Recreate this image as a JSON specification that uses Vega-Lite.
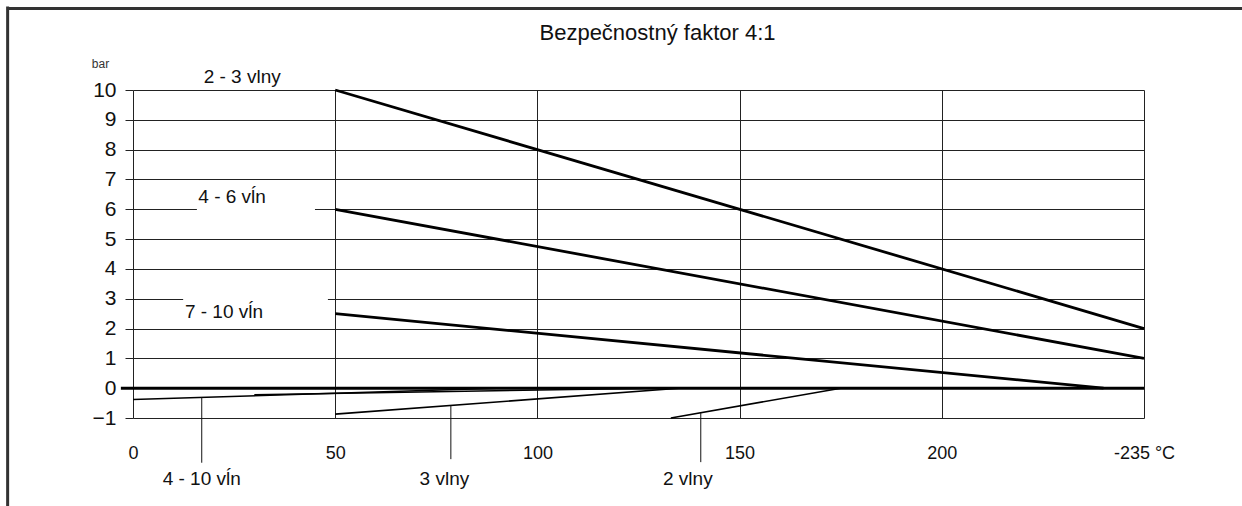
{
  "$schema": "https://vega.github.io/schema/vega-lite/v6.json",
  "autosize": "none",
  "width": 1011,
  "height": 328,
  "padding": {"left": 133, "top": 90, "right": 98, "bottom": 88},
  "background": "white",
  "config": {
    "view": {"stroke": null},
    "font": "Liberation Sans",
    "axis": {"gridColor": "#222", "gridOpacity": 1, "gridWidth": 1, "tickColor": "#222", "labelColor": "#111", "labelFont": "Liberation Sans", "domain": false}
  },
  "title": {
    "text": "Bezpečnostný faktor 4:1",
    "font": "Liberation Sans",
    "fontSize": 22,
    "fontWeight": "normal",
    "color": "#111",
    "anchor": "middle",
    "frame": "group",
    "dx": 19,
    "offset": 0,
    "dy": 40
  },
  "datasets": {
    "mainLines": [
      {"s": "2 - 3 vlny", "x": 50, "y": 10},
      {"s": "2 - 3 vlny", "x": 250, "y": 2},
      {"s": "4 - 6 vĺn", "x": 50, "y": 6},
      {"s": "4 - 6 vĺn", "x": 250, "y": 1},
      {"s": "7 - 10 vĺn", "x": 50, "y": 2.5},
      {"s": "7 - 10 vĺn", "x": 240, "y": 0}
    ],
    "negLines": [
      {"s": "4 - 10 vĺn a", "x": 0, "y": -0.38},
      {"s": "4 - 10 vĺn a", "x": 90, "y": 0},
      {"s": "4 - 10 vĺn b", "x": 30, "y": -0.22},
      {"s": "4 - 10 vĺn b", "x": 128, "y": 0},
      {"s": "3 vlny", "x": 50, "y": -0.87},
      {"s": "3 vlny", "x": 135, "y": 0},
      {"s": "2 vlny", "x": 133, "y": -1},
      {"s": "2 vlny", "x": 175, "y": 0}
    ],
    "zero": [{"x": -3, "x2": 250, "y": 0}],
    "leaders": [
      {"x": 17, "y": -0.31, "y2": -2.5},
      {"x": 78.6, "y": -0.58, "y2": -2.38},
      {"x": 140.4, "y": -0.83, "y2": -2.48}
    ],
    "boxes": [
      {"x": 15.8, "x2": 45, "y": 6.78, "y2": 5.84},
      {"x": 12.4, "x2": 48.2, "y": 3.29, "y2": 2.11}
    ],
    "labels": [
      {"t": "2 - 3 vlny", "x": 27, "y": 10.44},
      {"t": "4 - 6 vĺn", "x": 24.5, "y": 6.4},
      {"t": "7 - 10 vĺn", "x": 22.5, "y": 2.55},
      {"t": "4 - 10 vĺn", "x": 17, "y": -3.05},
      {"t": "3 vlny", "x": 77, "y": -3.05},
      {"t": "2 vlny", "x": 137.2, "y": -3.05}
    ],
    "frameTop": [{"x": -31.2, "x2": 280, "y": 12.73}],
    "frameLeft": [{"x": -31.0, "y": 12.8, "y2": -4.5}]
  },
  "encoding": {
    "x": {
      "field": "x",
      "type": "quantitative",
      "scale": {"domain": [0, 250], "nice": false, "zero": false},
      "axis": {
        "values": [0, 50, 100, 150, 200, 250],
        "labelExpr": "datum.value == 250 ? '-235 °C' : datum.label",
        "title": null,
        "grid": true,
        "ticks": false,
        "labelFontSize": 18,
        "labelPadding": 26,
        "labelFlush": false
      }
    },
    "y": {
      "field": "y",
      "type": "quantitative",
      "scale": {"domain": [-1, 10], "nice": false, "zero": false},
      "axis": {
        "values": [-1, 0, 1, 2, 3, 4, 5, 6, 7, 8, 9, 10],
        "title": "bar",
        "titleAngle": 0,
        "titleX": -33,
        "titleY": -27,
        "titleAlign": "center",
        "titleBaseline": "middle",
        "titleFontSize": 12,
        "titleFontWeight": "normal",
        "titleColor": "#333",
        "grid": true,
        "ticks": true,
        "tickSize": 8,
        "labelFontSize": 21,
        "labelPadding": 9
      }
    }
  },
  "layer": [
    {
      "data": {"name": "frameTop"},
      "mark": {"type": "rule", "color": "#333", "strokeWidth": 3, "clip": false},
      "encoding": {"x2": {"field": "x2"}}
    },
    {
      "data": {"name": "frameLeft"},
      "mark": {"type": "rule", "color": "#333", "strokeWidth": 3, "clip": false},
      "encoding": {"y2": {"field": "y2"}}
    },
    {
      "data": {"name": "boxes"},
      "mark": {"type": "rect", "fill": "white", "stroke": null},
      "encoding": {"x2": {"field": "x2"}, "y2": {"field": "y2"}}
    },
    {
      "data": {"name": "negLines"},
      "mark": {"type": "line", "color": "black", "strokeWidth": 1.6},
      "encoding": {"detail": {"field": "s"}}
    },
    {
      "data": {"name": "mainLines"},
      "mark": {"type": "line", "color": "black", "strokeWidth": 2.8},
      "encoding": {"detail": {"field": "s"}}
    },
    {
      "data": {"name": "zero"},
      "mark": {"type": "rule", "color": "black", "strokeWidth": 3, "clip": false},
      "encoding": {"x2": {"field": "x2"}}
    },
    {
      "data": {"name": "leaders"},
      "mark": {"type": "rule", "color": "#111", "strokeWidth": 1, "clip": false},
      "encoding": {"y2": {"field": "y2"}}
    },
    {
      "data": {"name": "labels"},
      "mark": {"type": "text", "font": "Liberation Sans", "fontSize": 19, "color": "#111", "align": "center", "baseline": "middle", "clip": false},
      "encoding": {"text": {"field": "t"}}
    }
  ]
}
